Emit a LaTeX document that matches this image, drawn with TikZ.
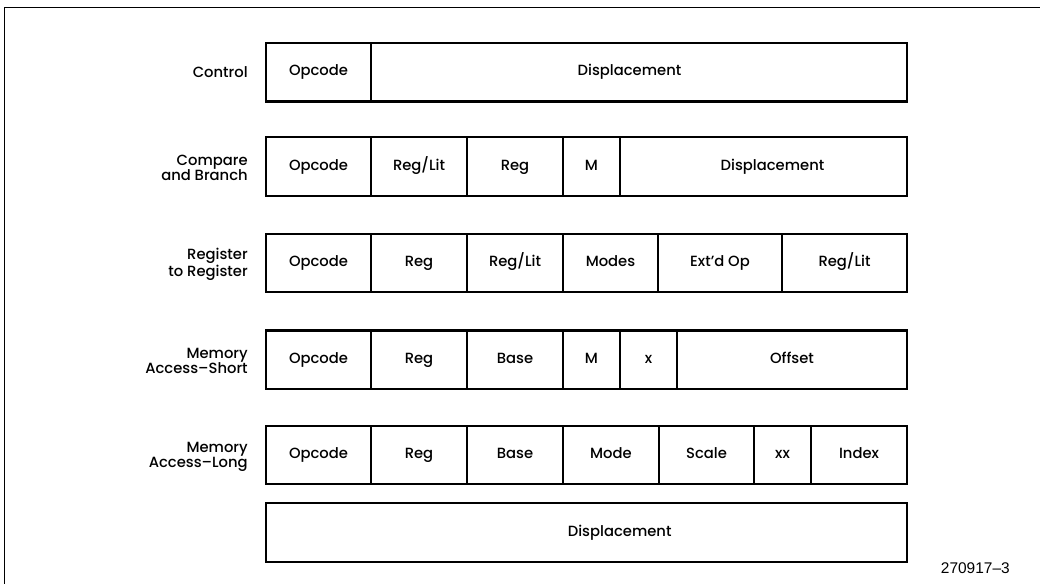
\documentclass[tikz,border=0pt]{standalone}
\usepackage{fontspec}
\setmainfont{Poppins}[UprightFont={* Medium}]
\newfontfamily\chiffres{Liberation Sans}
\tikzset{
  %% cells of one instruction word
  champ/.style    = {draw, line width=1.5pt, inner sep=0pt, outer sep=0pt,
                     minimum height=1.46cm, text height=7.6pt, text depth=2.4pt,
                     font=\fontsize{10.5}{12}\selectfont},
  texteChamp/.style = {inner sep=0pt, text height=7.6pt, text depth=2.4pt,
                     font=\fontsize{10.5}{12}\selectfont},
  %% format names, right-aligned left of the words
  intitule/.style = {anchor=east, align=right, inner sep=0pt,
                     font=\fontsize{10.5}{10.6}\selectfont},
  cadre/.style    = {line width=0.7pt},
}

\begin{document}
\begin{tikzpicture}[x=0.025cm, y=-0.025cm]
\useasboundingbox (0,0) rectangle (1040,584);

%% Frame, open on the right and at the bottom
\draw[cadre] (4,590) -- (4,7) -- (1045,7);

%% Control
\foreach \a/\b/\nom [count=\c] in {266/371/Opcode, 371/907/{}}
  \node[champ, minimum width={(\b-\a)*0.025cm}] (ctl\c) at ({(\a+\b)/2}, 72.3) {\nom};
\node[texteChamp] (ctlDisp) at (629.5, 72.3) {Displacement};
\node[intitule] (lblCtl) at (248, 72.3) {Control};

%% Compare and Branch
\foreach \a/\b/\nom [count=\c] in {266/371/Opcode, 371/467/{Reg/Lit}, 467/563/Reg,
                                   563/620/M, 620/907/{}}
  \node[champ, minimum width={(\b-\a)*0.025cm}] (cob\c) at ({(\a+\b)/2}, 166.5) {\nom};
\node[texteChamp] (cobDisp) at (772.5, 166.5) {Displacement};
\node[intitule] (lblCob) at (248, 168) {Compare\\and Branch};

%% Register to Register
\foreach \a/\b/\nom [count=\c] in {266/371/Opcode, 371/467/Reg, 467/563/{Reg/Lit},
                                   563/658/Modes, 658/782/{Ext'd Op}, 782/907/{Reg/Lit}}
  \node[champ, minimum width={(\b-\a)*0.025cm}] (reg\c) at ({(\a+\b)/2}, 262.8) {\nom};
\node[intitule] (lblReg) at (248, 264) {Register\\to Register};

%% Memory Access-Short
\foreach \a/\b/\nom [count=\c] in {266/371/Opcode, 371/467/Reg, 467/563/Base,
                                   563/620/M, 620/677/x, 677/907/Offset}
  \node[champ, minimum width={(\b-\a)*0.025cm}] (mem\c) at ({(\a+\b)/2}, 359.7) {\nom};
\node[intitule] (lblMem) at (248, 361) {Memory\\Access\textendash Short};

%% Memory Access-Long, and its second word
\foreach \a/\b/\nom [count=\c] in {266/371/Opcode, 371/467/Reg, 467/563/Base,
                                   563/659/Mode, 659/754/Scale, 754/811/xx, 811/907/Index}
  \node[champ, minimum width={(\b-\a)*0.025cm}] (mel\c) at ({(\a+\b)/2}, 455.2) {\nom};
\node[intitule] (lblMel) at (248, 456.5) {Memory\\Access\textendash Long};
\node[champ, minimum width={641*0.025cm}] (melDisp) at (586.5, 532.5) {};
\node[texteChamp] (melDispTxt) at (619.7, 532.5) {Displacement};

%% Figure number
\node[font=\chiffres\fontsize{11}{12}\selectfont, anchor=base east, inner sep=0pt]
     (numFig) at (1010, 573) {270917\textendash 3};

\end{tikzpicture}
\end{document}
